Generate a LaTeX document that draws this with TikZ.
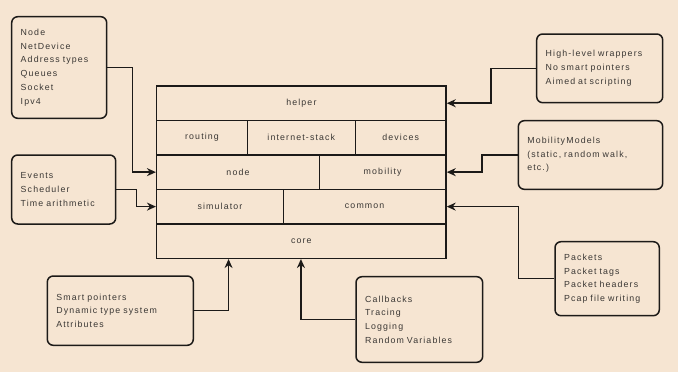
\documentclass[tikz,border=0pt]{standalone}
\usepackage{fontspec}
\newfontfamily\diagfont{Liberation Sans}[LetterSpace=13]
\usetikzlibrary{calc}
\usetikzlibrary{arrows.meta}
\definecolor[named]{Paper}{RGB}{246,229,210}
\definecolor[named]{Ink}{RGB}{28,26,24}
\definecolor[named]{Label}{RGB}{58,55,52}
\newcommand{\boxfont}{\diagfont\fontsize{8.8}{13.7}\selectfont\spaceskip=6pt plus 1pt}
\tikzset{
  module/.style={draw=Ink,line width=1.5pt,minimum height=34.46pt,inner sep=0pt,
    text=Label,font=\boxfont},
  note/.style={draw=Ink,line width=1.5pt,rounded corners=6pt,align=left,
    inner xsep=9pt,inner ysep=0pt,text=Label,font=\boxfont},
  feed/.style={draw=Ink,line width=1.5pt,-{Stealth[length=9pt,width=8pt]}}
}

\begin{document}
\begin{tikzpicture}[x=1pt,y=-1pt]
    % Paper
    \fill[Paper] (0,0) rectangle (678,372);

    % Module stack
    \begin{scope}
      \node[module,minimum width=289.3pt] (helper) at (301.35,103.23) {helper};
      \node[module,minimum width=90.6pt] (routing) at (202.0,137.69) {routing};
      \node[module,minimum width=108pt] (inet) at (301.3,137.69) {internet-stack};
      \node[module,minimum width=90.7pt] (devices) at (400.65,137.69) {devices};
      \node[module,minimum width=162.6pt] (nodes) at (238.0,172.15) {node};
      \node[module,minimum width=126.7pt] (mobility) at (382.65,172.15) {mobility};
      \node[module,minimum width=126.6pt] (simulator) at (220.0,206.61) {simulator};
      \node[module,minimum width=162.7pt] (common) at (364.65,206.61) {common};
      \node[module,minimum width=289.3pt] (core) at (301.35,241.07) {core};
    \end{scope}

    % Notes on the left
    \node[note,text width=77pt,minimum height=101.6pt] (netinfo) at (59.2,67.5)
      {Node\\NetDevice\\Address types\\Queues\\Socket\\Ipv4};
    \node[note,text width=86pt,minimum height=69pt] (events) at (63.7,189.5)
      {Events\\Scheduler\\Time arithmetic};
    \node[note,text width=128pt,minimum height=69.3pt] (smartptr) at (120.3,310.65)
      {Smart pointers\\Dynamic type system\\Attributes};
    \node[note,text width=108.7pt,minimum height=85.6pt] (callbacks) at (419.35,319.5)
      {Callbacks\\Tracing\\Logging\\Random Variables};

    % Notes on the right
    \node[note,text width=108pt,minimum height=68.7pt] (wrappers) at (599.7,68.35)
      {High-level wrappers\\No smart pointers\\Aimed at scripting};
    \node[note,text width=126.4pt,minimum height=68.6pt] (mobmodels) at (590.5,155.0)
      {MobilityModels\\(static, random walk,\\etc.)};
    \node[note,text width=86.3pt,minimum height=74pt] (packets) at (607.15,278.7)
      {Packets\\Packet tags\\Packet headers\\Pcap file writing};

    % Connectors
    \draw[feed] (netinfo.east) -- ++(25,0) |- (nodes.west);
    \draw[feed] (events.east) -- ++(20,0) |- (simulator.west);
    \draw[feed] (smartptr.east) -| ([xshift=72.6pt]core.south west);
    \draw[feed] (callbacks.west) -| ([xshift=145pt]core.south west);
    \draw[feed] (wrappers.west) -- ++(-45,0) |- (helper.east);
    \draw[feed] (mobmodels.west) -- ++(-35.6,0) |- (mobility.east);
    \draw[feed] (packets.west) -- ++(-36,0) |- (common.east);
\end{tikzpicture}
\end{document}
